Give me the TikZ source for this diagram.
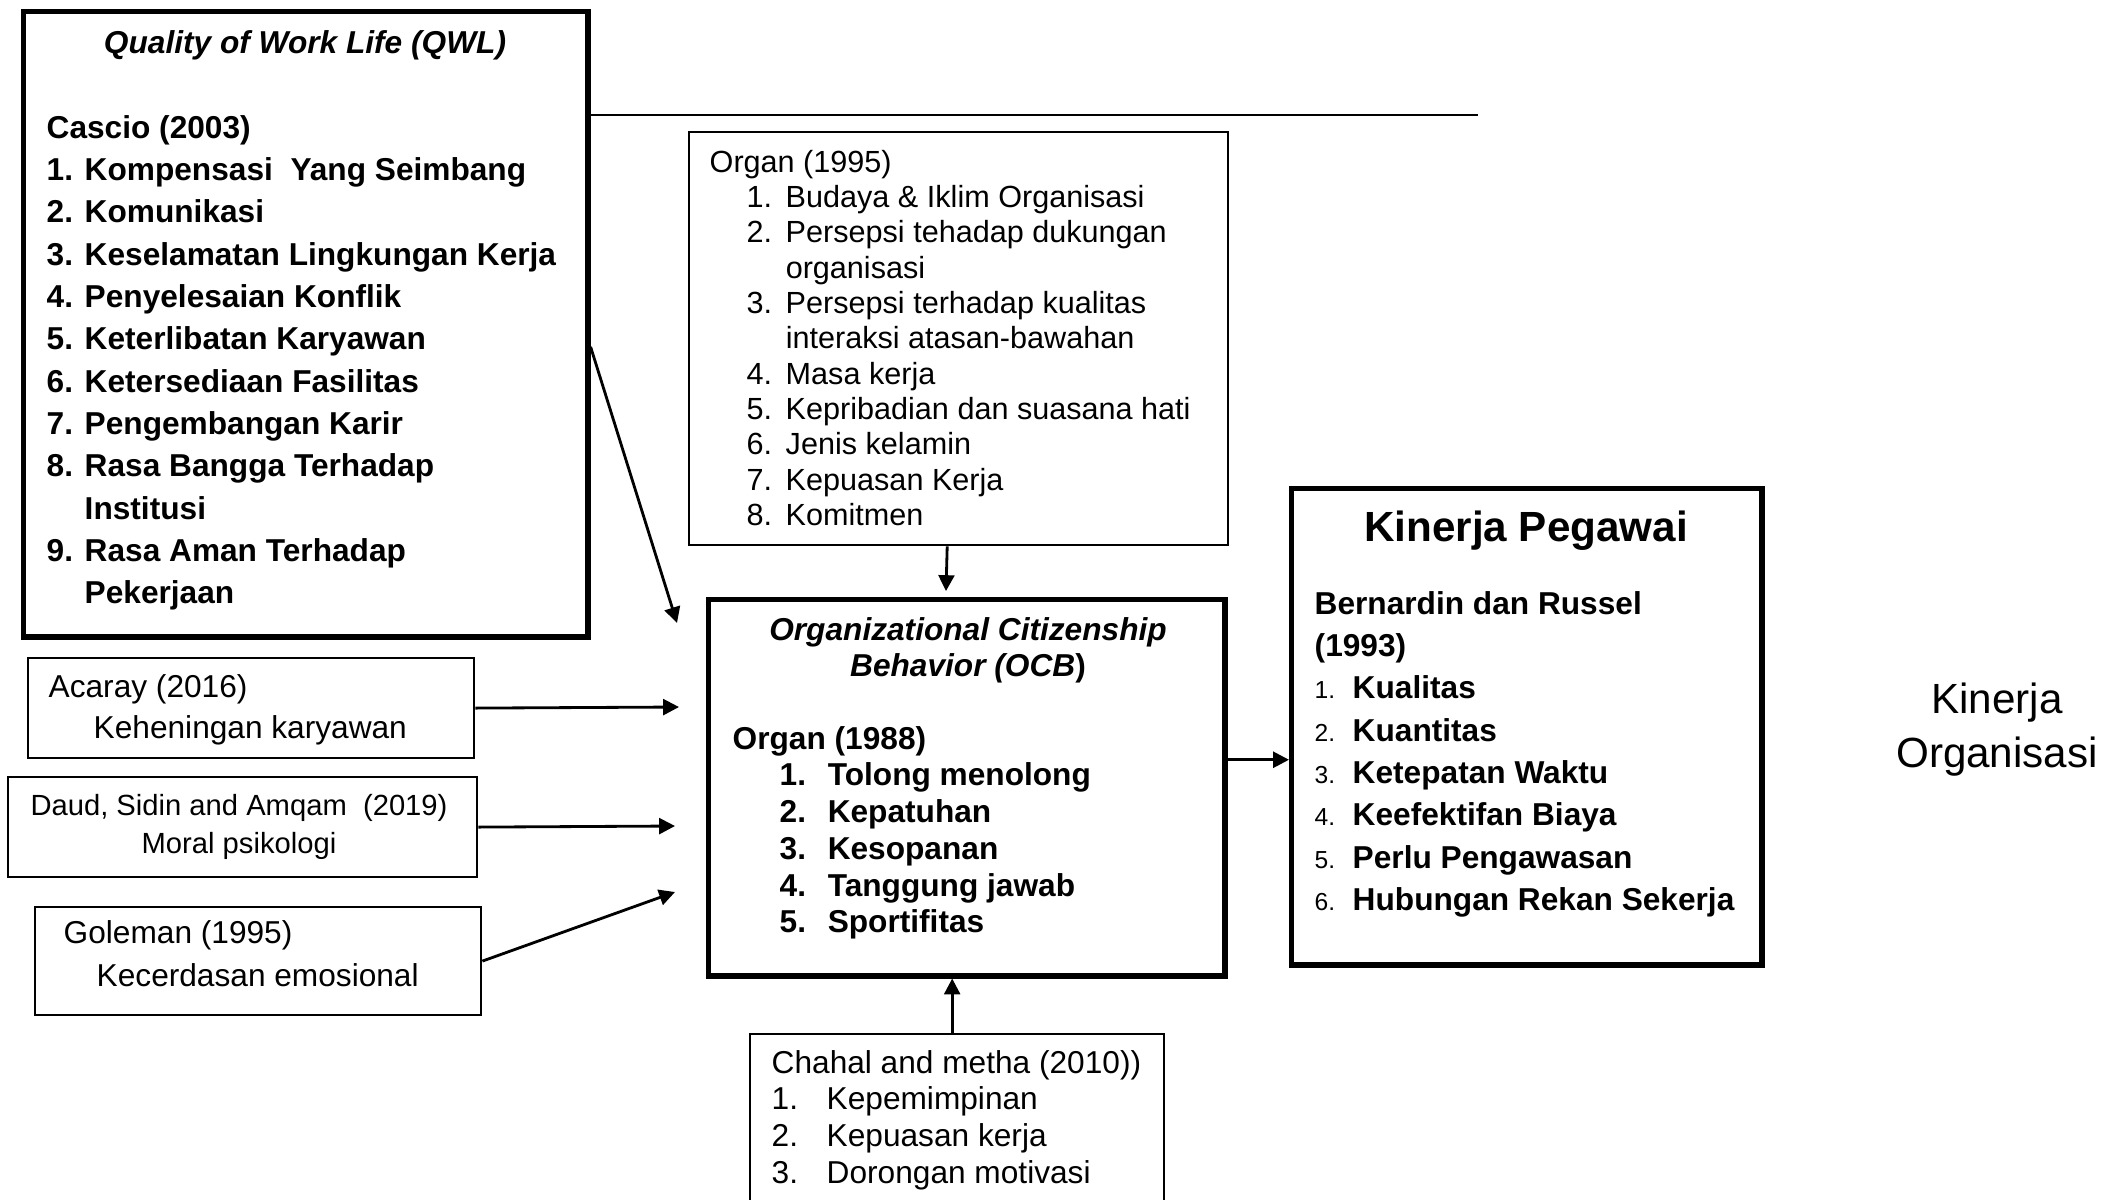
\documentclass[tikz,border=0pt]{standalone}
\usepackage{fontspec}
\setmainfont{Liberation Sans}
\usetikzlibrary{arrows.meta}

\tikzset{
  thickbox/.style={draw, line width=1.5pt, inner sep=0pt, anchor=north west},
  thinbox/.style={draw, line width=0.6pt, inner sep=0pt, anchor=north west},
  link/.style={line width=0.8pt, -{Triangle[length=4.5pt, width=4.5pt]}},
  txt/.style={inner sep=0pt, anchor=base west},
}
\newcommand{\numfont}{\fontsize{7}{7}\selectfont\mdseries}

\begin{document}
\begin{tikzpicture}[x=0.01cm, y=-0.01cm]
\useasboundingbox (0,0) rectangle (2115,1199);

% Boxes
\node[thickbox, minimum width=5.64cm, minimum height=6.25cm] (qwl) at (21,9) {};
\node[thinbox, minimum width=5.39cm, minimum height=4.13cm] (organ95) at (688,131) {};
\node[thickbox, minimum width=5.16cm, minimum height=3.76cm] (ocb) at (706,597) {};
\node[thickbox, minimum width=4.70cm, minimum height=4.76cm] (kinerja) at (1289,486) {};
\node[thinbox, minimum width=4.46cm, minimum height=1.00cm] (acaray) at (27,657) {};
\node[thinbox, minimum width=4.69cm, minimum height=1.00cm] (daud) at (7,776) {};
\node[thinbox, minimum width=4.46cm, minimum height=1.08cm] (goleman) at (34,906) {};
\node[thinbox, minimum width=4.14cm, minimum height=2.00cm] (chahal) at (749,1033) {};

% Quality of Work Life
\node[txt, anchor=base, font=\fontsize{9}{12}\selectfont\bfseries\itshape] (qwlhead) at (305,53) {Quality of Work Life (QWL)};
\node[txt, font=\fontsize{9}{12.04}\selectfont\bfseries] (qwllist) at (46,138) {%
\begin{tabular}[t]{@{}p{0.38cm}@{}l@{}}
\multicolumn{2}{@{}l@{}}{Cascio (2003)}\\
1. & Kompensasi\ \ Yang Seimbang\\
2. & Komunikasi\\
3. & Keselamatan Lingkungan Kerja\\
4. & Penyelesaian Konflik\\
5. & Keterlibatan Karyawan\\
6. & Ketersediaan Fasilitas\\
7. & Pengembangan Karir\\
8. & Rasa Bangga Terhadap\\
   & Institusi\\
9. & Rasa Aman Terhadap\\
   & Pekerjaan
\end{tabular}};

% Organ (1995)
\node[txt, font=\fontsize{8.7}{10.05}\selectfont] (organ95list) at (709,172) {%
\begin{tabular}[t]{@{}p{0.37cm}@{}p{0.39cm}@{}l@{}}
\multicolumn{3}{@{}l@{}}{Organ (1995)}\\
& 1. & Budaya \& Iklim Organisasi\\
& 2. & Persepsi tehadap dukungan\\
&    & organisasi\\
& 3. & Persepsi terhadap kualitas\\
&    & interaksi atasan-bawahan\\
& 4. & Masa kerja\\
& 5. & Kepribadian dan suasana hati\\
& 6. & Jenis kelamin\\
& 7. & Kepuasan Kerja\\
& 8. & Komitmen
\end{tabular}};

% OCB
\node[txt, anchor=base, font=\fontsize{9}{10.5}\selectfont\bfseries] (ocbhead) at (968,640) {%
\begin{tabular}[t]{@{}c@{}}
\textit{Organizational Citizenship}\\
\textit{Behavior (OCB})
\end{tabular}};
\node[txt, font=\fontsize{9}{10.45}\selectfont\bfseries] (ocblist) at (732,749) {%
\begin{tabular}[t]{@{}p{0.47cm}@{}p{0.48cm}@{}l@{}}
\multicolumn{3}{@{}l@{}}{Organ (1988)}\\
& 1. & Tolong menolong\\
& 2. & Kepatuhan\\
& 3. & Kesopanan\\
& 4. & Tanggung jawab\\
& 5. & Sportifitas
\end{tabular}};

% Kinerja Pegawai
\node[txt, anchor=base, font=\fontsize{12}{14}\selectfont\bfseries] (kinerjahead) at (1526,541) {Kinerja Pegawai};
\node[txt, font=\fontsize{9}{12.05}\selectfont\bfseries] (kinerjalist) at (1314,614) {%
\begin{tabular}[t]{@{}p{0.38cm}@{}l@{}}
\multicolumn{2}{@{}l@{}}{Bernardin dan Russel}\\
\multicolumn{2}{@{}l@{}}{(1993)}\\
{\numfont 1.} & Kualitas\\
{\numfont 2.} & Kuantitas\\
{\numfont 3.} & Ketepatan Waktu\\
{\numfont 4.} & Keefektifan Biaya\\
{\numfont 5.} & Perlu Pengawasan\\
{\numfont 6.} & Hubungan Rekan Sekerja
\end{tabular}};

% Kinerja Organisasi
\node[txt, anchor=base, font=\fontsize{12}{15.6}\selectfont] (kinerjaorg) at (1997,713) {%
\begin{tabular}[t]{@{}c@{}}
Kinerja\\
Organisasi
\end{tabular}};

% Left boxes
\node[txt, font=\fontsize{9}{11.66}\selectfont] (acaraytext) at (48,697) {%
\begin{tabular}[t]{@{}l@{}}
Acaray (2016)\\
\hspace{0.45cm}Keheningan karyawan
\end{tabular}};
\node[txt, anchor=base, font=\fontsize{8.3}{10.8}\selectfont] (daudtext) at (239,815) {%
\begin{tabular}[t]{@{}c@{}}
Daud, Sidin and Amqam \ (2019)\\
Moral psikologi
\end{tabular}};
\node[txt, font=\fontsize{9}{12.5}\selectfont] (golemantext) at (63,943) {%
\begin{tabular}[t]{@{}l@{}}
Goleman (1995)\\
\hspace{0.33cm}Kecerdasan emosional
\end{tabular}};

% Chahal and metha
\node[txt, font=\fontsize{9}{10.43}\selectfont] (chahaltext) at (771,1073) {%
\begin{tabular}[t]{@{}p{0.55cm}@{}l@{}}
\multicolumn{2}{@{}l@{}}{Chahal and metha (2010))}\\
1. & Kepemimpinan\\
2. & Kepuasan kerja\\
3. & Dorongan motivasi
\end{tabular}};

% Connectors
\coordinate (lineend) at (1478,115);
\coordinate (qwltip) at (677,623);
\coordinate (acaraytip) at (679,707);
\coordinate (daudtip) at (675,826);
\coordinate (golemantip) at (675,892);
\coordinate (organtip) at (946,591);

\draw[line width=0.6pt] (qwl.east |- lineend) -- (lineend);
\draw[link] ([yshift=-0.225cm]qwl.east) -- (qwltip);
\draw[link] (acaray.east) -- (acaraytip);
\draw[link] (daud.east) -- (daudtip);
\draw[link] (goleman.east) -- (golemantip);
\draw[link] ([xshift=-0.115cm]organ95.south) -- (organtip);
\draw[link] ([xshift=-0.05cm]chahal.north) -- ([xshift=-0.05cm]chahal.north |- ocb.south);
\draw[link] ([yshift=0.28cm]ocb.east) -- ([yshift=0.28cm]ocb.east -| kinerja.west);
\end{tikzpicture}
\end{document}
